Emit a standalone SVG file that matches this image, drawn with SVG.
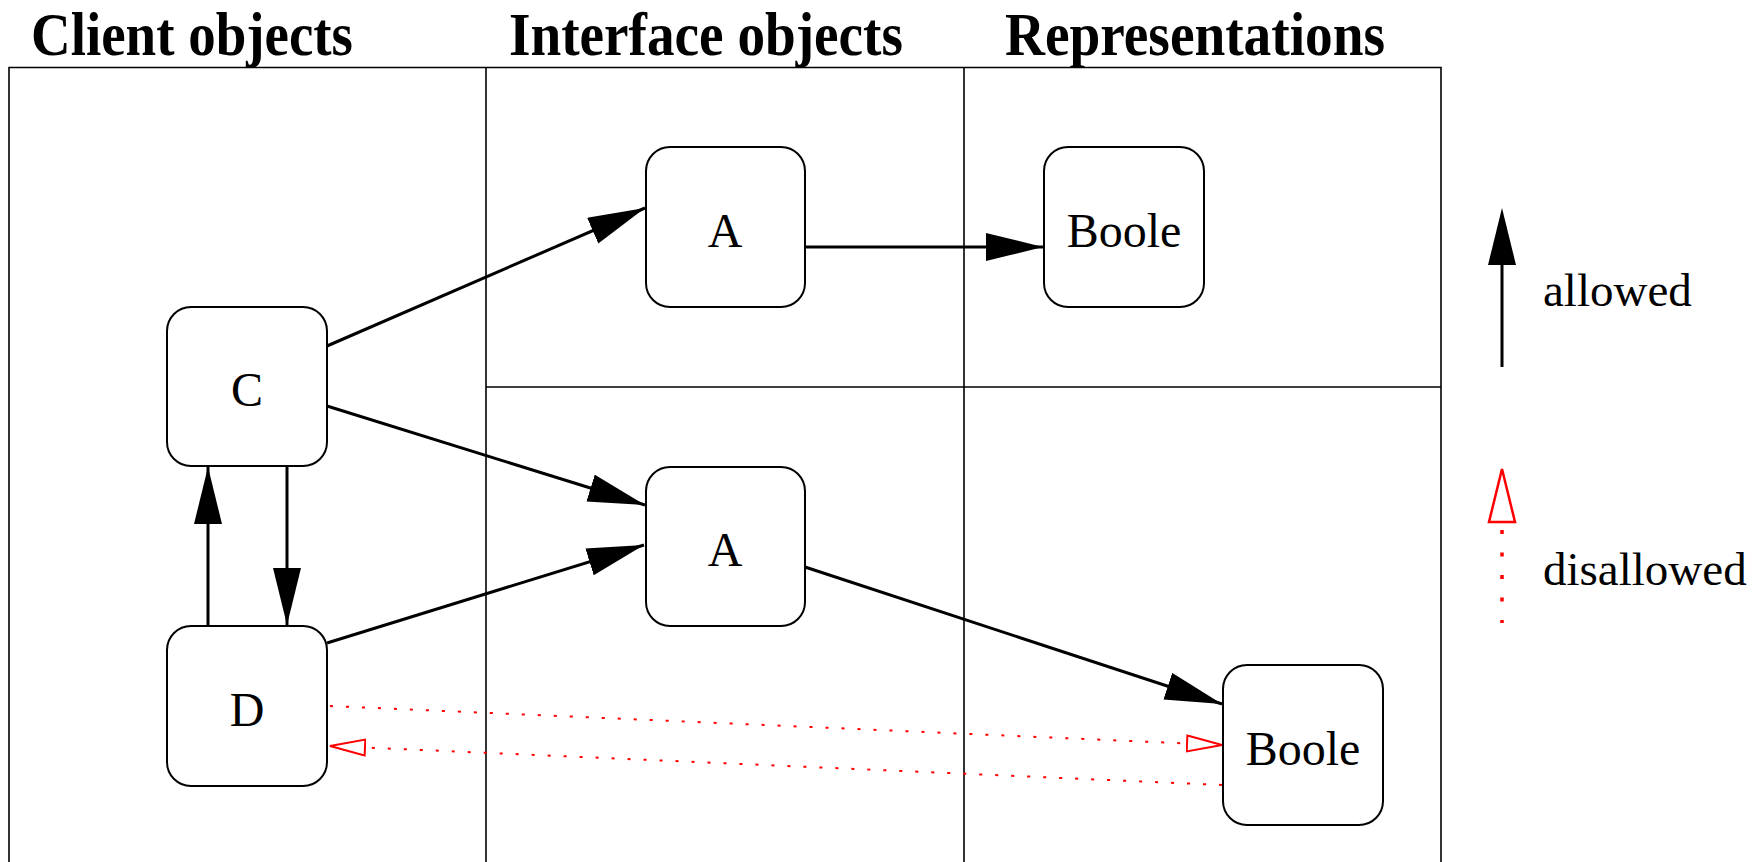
<svg xmlns="http://www.w3.org/2000/svg" width="1763" height="862" viewBox="0 0 1763 862">
<style>
.grid{stroke:#000;stroke-width:1.6;fill:none}
.box{fill:#fff;stroke:#000;stroke-width:2}
.lbl{font-family:"Liberation Serif","Times New Roman",serif;font-size:48px;fill:#000;text-anchor:middle}
.hdr{font-family:"Liberation Serif","Times New Roman",serif;font-size:61px;font-weight:bold;fill:#000}
.leg{font-family:"Liberation Serif","Times New Roman",serif;font-size:47px;fill:#000}
.ok{stroke:#000;stroke-width:3;fill:none;marker-end:url(#ah)}
.bad{stroke:#f00;stroke-width:2;fill:none;stroke-dasharray:3 13;marker-end:url(#hh)}
</style>
<defs>
<marker id="ah" markerUnits="userSpaceOnUse" markerWidth="60" markerHeight="30" refX="57" refY="14" orient="auto" viewBox="0 0 60 30">
<path d="M0,0 L57,14 L0,28 z" fill="#000"/>
</marker>
<marker id="hh" markerUnits="userSpaceOnUse" markerWidth="40" markerHeight="20" refX="36" refY="9" orient="auto" viewBox="0 0 40 20">
<path d="M1,1 L36,9 L1,17 z" fill="#fff" stroke="#f00" stroke-width="2"/>
</marker>
</defs>
<rect width="1763" height="862" fill="#fff"/>
<g id="headers">
<text class="hdr" x="31" y="55" textLength="322" lengthAdjust="spacingAndGlyphs">Client objects</text>
<text class="hdr" x="509" y="55" textLength="394" lengthAdjust="spacingAndGlyphs">Interface objects</text>
<text class="hdr" x="1005" y="55" textLength="380" lengthAdjust="spacingAndGlyphs">Representations</text>
</g>
<g id="grid">
<path class="grid" d="M9,862 V67.5 H1441 V862 M486,67.5 V862 M964,67.5 V862 M486,387 H1441"/>
</g>
<g id="connectors">
<line class="ok" x1="327" y1="346" x2="645" y2="208"/>
<line class="ok" x1="805" y1="247" x2="1043" y2="247"/>
<line class="ok" x1="327" y1="406" x2="645" y2="505"/>
<line class="ok" x1="327" y1="643" x2="644" y2="545"/>
<line class="ok" x1="805" y1="567" x2="1222" y2="704"/>
<line class="ok" x1="287" y1="466" x2="287" y2="625"/>
<line class="ok" x1="208" y1="626" x2="208" y2="467"/>
<line class="bad" x1="330" y1="706" x2="1222" y2="745"/>
<line class="bad" x1="1222" y1="785" x2="330" y2="746"/>
</g>
<g id="node-C">
<rect class="box" x="167" y="307" width="160" height="159" rx="24"/>
<text class="lbl" x="247" y="406">C</text>
</g>
<g id="node-D">
<rect class="box" x="167" y="626" width="160" height="160" rx="24"/>
<text class="lbl" x="247" y="726">D</text>
</g>
<g id="node-A1">
<rect class="box" x="646" y="147" width="159" height="160" rx="24"/>
<text class="lbl" x="725" y="247">A</text>
</g>
<g id="node-A2">
<rect class="box" x="646" y="467" width="159" height="159" rx="24"/>
<text class="lbl" x="725" y="566">A</text>
</g>
<g id="node-Boole1">
<rect class="box" x="1044" y="147" width="160" height="160" rx="24"/>
<text class="lbl" x="1124" y="247">Boole</text>
</g>
<g id="node-Boole2">
<rect class="box" x="1223" y="665" width="160" height="160" rx="24"/>
<text class="lbl" x="1303" y="765">Boole</text>
</g>
<g id="legend">
<line x1="1502" y1="367" x2="1502" y2="250" stroke="#000" stroke-width="3"/>
<path d="M1502,208 L1516,265 L1488,265 z" fill="#000"/>
<text class="leg" x="1543" y="306">allowed</text>
<path d="M1502,469 L1515,522 L1489,522 z" fill="#fff" stroke="#f00" stroke-width="2.5"/>
<line x1="1502" y1="530" x2="1502" y2="623" stroke="#f00" stroke-width="3.5" stroke-dasharray="4 18.5"/>
<text class="leg" x="1543" y="585">disallowed</text>
</g>
</svg>
